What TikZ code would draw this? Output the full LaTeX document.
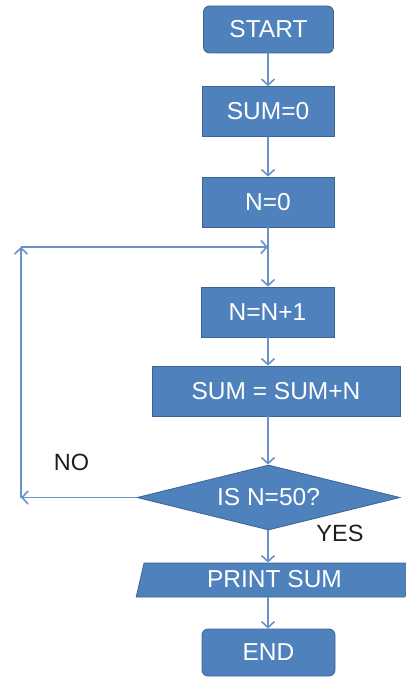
\documentclass[tikz,border=0pt]{standalone}
\usepackage{fontspec}
\setmainfont{Liberation Sans}
\usetikzlibrary{arrows.meta,shapes.geometric}
\definecolor{boxfill}{RGB}{79,129,189}
\definecolor{boxline}{RGB}{60,99,146}
\definecolor{flowline}{RGB}{104,146,204}
\definecolor{labeltext}{RGB}{30,30,30}
\begin{document}
\begin{tikzpicture}[x=1pt,y=-1pt,
  base/.style={fill=boxfill, draw=boxline, line width=0.8pt, text=white,
    font=\fontsize{24.5}{26}\selectfont, inner sep=0pt},
  procbox/.style={base, rectangle, minimum width=132pt, minimum height=50pt},
  termbox/.style={base, rectangle, rounded corners=6pt, minimum width=130pt, minimum height=47pt},
  decision/.style={base, diamond, shape aspect=4, minimum width=263pt, minimum height=65pt},
  iobox/.style={base, trapezium, trapezium left angle=78, trapezium right angle=102,
    trapezium stretches=true, minimum width=277pt, minimum height=34pt},
  flow/.style={draw=flowline, line width=1.6pt, -{Straight Barb[length=6pt,width=13pt]}},
  tag/.style={text=labeltext, font=\fontsize{23.5}{25}\selectfont, inner sep=0pt}
]
\useasboundingbox (0,0) rectangle (406,679);

% process chain
\node[termbox] (start) at (268.5,29.5) {START};
\node[procbox] (sum0) at (268,111.5) {SUM=0};
\node[procbox] (n0) at (268,202) {N=0};
\node[procbox, minimum width=133pt] (inc) at (267.5,312) {N=N+1};
\node[procbox, minimum width=248pt] (acc) at (276,391) {SUM = SUM+N};
\node[decision] (test) at (268.5,497.5) {IS N=50?};
\node[iobox] (print) at (274.5,580) {\raisebox{2pt}{PRINT SUM}};
\node[termbox, minimum width=133pt] (stop) at (268.5,652.5) {END};

% loop-back corners
\coordinate (backL) at (21,497.5);
\coordinate (backT) at (21,247);
\coordinate (merge) at (268,247);

% straight connectors
\draw[flow] (start.south -| 268,0) -- (sum0.north);
\draw[flow] (sum0.south) -- (n0.north);
\draw[flow] (n0.south) -- (inc.north -| n0.south);
\draw[flow] (inc.south -| n0.south) -- (acc.north -| n0.south);
\draw[flow] (acc.south -| n0.south) -- (test.north -| n0.south);
\draw[flow] (test.south -| n0.south) -- (print.north -| n0.south);
\draw[flow] (print.south -| n0.south) -- (stop.north -| n0.south);

% NO branch back to the loop
\draw[flow] (test.west) -- (backL);
\draw[flow] (backL) -- (backT);
\draw[flow] (backT) -- (merge);

% branch labels
\node[tag] (nolabel) at (71.5,462) {NO};
\node[tag] (yeslabel) at (340,533) {YES};
\end{tikzpicture}
\end{document}
